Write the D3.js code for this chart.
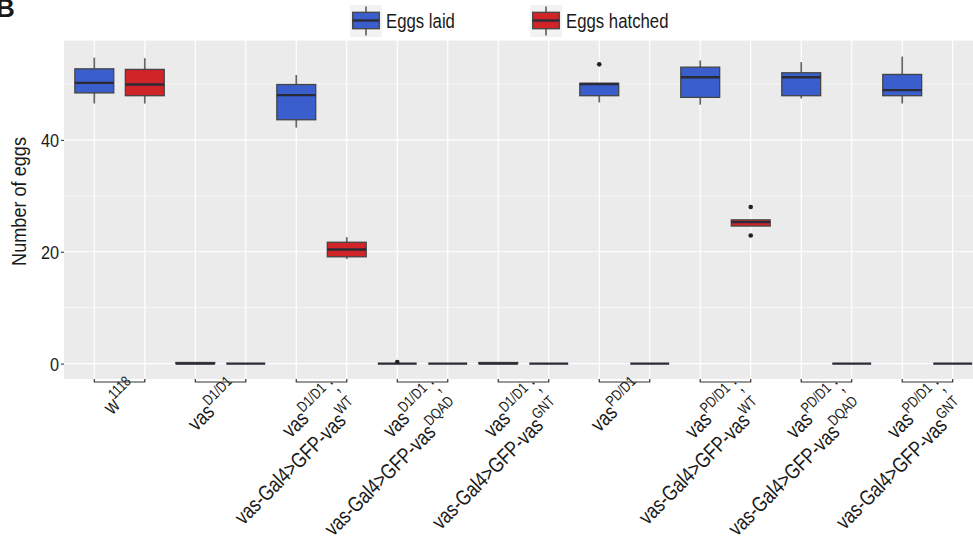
<!DOCTYPE html>
<html>
<head>
<meta charset="utf-8">
<script src="https://cdn.jsdelivr.net/npm/d3@7"></script>
<style>
  html, body { margin: 0; padding: 0; background: #ffffff; }
  svg { display: block; }
  text { font-family: "Liberation Sans", Arial, sans-serif; fill: #1a1a1a; }
</style>
</head>
<body>
<div id="chart"></div>
<script>
// ---------------- DATA ----------------
const seriesNames = ["Eggs laid", "Eggs hatched"];
const seriesColors = ["#3A5FCD", "#D02428"];

// group labels: lines -> [text, isSuperscript]
const groupLabels = [
  [[["w", 0], ["1118", 1]]],
  [[["vas", 0], ["D1/D1", 1]]],
  [[["vas", 0], ["D1/D1", 1], [" ;", 0]], [["vas-Gal4>GFP-vas", 0], ["WT", 1]]],
  [[["vas", 0], ["D1/D1", 1], [" ;", 0]], [["vas-Gal4>GFP-vas", 0], ["DQAD", 1]]],
  [[["vas", 0], ["D1/D1", 1], [" ;", 0]], [["vas-Gal4>GFP-vas", 0], ["GNT", 1]]],
  [[["vas", 0], ["PD/D1", 1]]],
  [[["vas", 0], ["PD/D1", 1], [" ;", 0]], [["vas-Gal4>GFP-vas", 0], ["WT", 1]]],
  [[["vas", 0], ["PD/D1", 1], [" ;", 0]], [["vas-Gal4>GFP-vas", 0], ["DQAD", 1]]],
  [[["vas", 0], ["PD/D1", 1], [" ;", 0]], [["vas-Gal4>GFP-vas", 0], ["GNT", 1]]]
];

// Eggs laid (box statistics per group)
const laidLow    = [46.5, 0,    42.2, 0,   0,   46.7, 46.3, 47.4, 46.5];
const laidQ1     = [48.4, 0,    43.6, 0,   0,   47.9, 47.6, 47.9, 47.9];
const laidMedian = [50.2, 0,    48.0, 0,   0,   50.0, 51.2, 51.2, 48.9];
const laidQ3     = [52.7, 0.2,  49.9, 0,   0.2, 50.1, 53.0, 52.0, 51.7];
const laidHigh   = [54.7, 0.2,  51.6, 0,   0.2, 50.1, 54.2, 53.9, 54.9];
const laidOutliers = [[], [], [], [0.3], [], [53.5], [], [], []];

// Eggs hatched
const hatchedLow    = [46.5, 0, 18.7, 0, 0, 0, 24.6, 0, 0];
const hatchedQ1     = [47.9, 0, 19.1, 0, 0, 0, 24.6, 0, 0];
const hatchedMedian = [49.9, 0, 20.4, 0, 0, 0, 25.3, 0, 0];
const hatchedQ3     = [52.6, 0, 21.7, 0, 0, 0, 25.7, 0, 0];
const hatchedHigh   = [54.6, 0, 22.6, 0, 0, 0, 25.7, 0, 0];
const hatchedOutliers = [[], [], [], [], [], [], [28.0, 22.9], [], []];

const yMajorTicks = [0, 20, 40];
const yMinorTicks = [10, 30, 50];
const yTitle = "Number of eggs";
const panelLetter = "B";

// ---------------- LAYOUT ----------------
const W = 973, H = 551;
const panel = { left: 64, right: 983, top: 40.6, bottom: 379 };
const narrow = 0.86;      // horizontal condensation of legend type
const labelNarrow = 0.8;  // condensation of x labels

const svg = d3.select("#chart").append("svg").attr("width", W).attr("height", H);

const nBoxes = groupLabels.length * 2;
const x = d3.scaleLinear().domain([-0.6, nBoxes - 1 + 0.6]).range([panel.left, panel.right]);
const y = d3.scaleLinear().domain([-2.75, 57.75]).range([panel.bottom, panel.top]);
const halfW = (x(1) - x(0)) * 0.385;

const boxes = [];
groupLabels.forEach((g, i) => {
  boxes.push({ idx: 2 * i, s: 0, low: laidLow[i], q1: laidQ1[i], med: laidMedian[i], q3: laidQ3[i], high: laidHigh[i], out: laidOutliers[i] });
  boxes.push({ idx: 2 * i + 1, s: 1, low: hatchedLow[i], q1: hatchedQ1[i], med: hatchedMedian[i], q3: hatchedQ3[i], high: hatchedHigh[i], out: hatchedOutliers[i] });
});

// panel background
svg.append("rect")
  .attr("x", panel.left).attr("y", panel.top)
  .attr("width", panel.right - panel.left).attr("height", panel.bottom - panel.top)
  .attr("fill", "#EBEBEB");

// grid
const grid = svg.append("g");
grid.selectAll("line.minor").data(yMinorTicks).join("line")
  .attr("x1", panel.left).attr("x2", panel.right)
  .attr("y1", d => y(d)).attr("y2", d => y(d))
  .attr("stroke", "#ffffff").attr("stroke-width", 0.6);
grid.selectAll("line.major").data(yMajorTicks).join("line")
  .attr("x1", panel.left).attr("x2", panel.right)
  .attr("y1", d => y(d)).attr("y2", d => y(d))
  .attr("stroke", "#ffffff").attr("stroke-width", 1.2);
grid.selectAll("line.vert").data(d3.range(nBoxes)).join("line")
  .attr("x1", d => x(d)).attr("x2", d => x(d))
  .attr("y1", panel.top).attr("y2", panel.bottom)
  .attr("stroke", "#ffffff").attr("stroke-width", 1.2);

// boxplots
const bg = svg.append("g");
const bx = bg.selectAll("g.box").data(boxes).join("g");
bx.append("line")
  .attr("x1", d => x(d.idx)).attr("x2", d => x(d.idx))
  .attr("y1", d => y(d.q3)).attr("y2", d => y(d.high))
  .attr("stroke", "#666666").attr("stroke-width", 1.7);
bx.append("line")
  .attr("x1", d => x(d.idx)).attr("x2", d => x(d.idx))
  .attr("y1", d => y(d.q1)).attr("y2", d => y(d.low))
  .attr("stroke", "#666666").attr("stroke-width", 1.7);
bx.append("rect")
  .attr("x", d => x(d.idx) - halfW).attr("width", halfW * 2)
  .attr("y", d => y(d.q3)).attr("height", d => y(d.q1) - y(d.q3))
  .attr("fill", d => seriesColors[d.s])
  .attr("stroke", "#444444").attr("stroke-width", 1.3);
bx.append("line")
  .attr("x1", d => x(d.idx) - halfW).attr("x2", d => x(d.idx) + halfW)
  .attr("y1", d => y(d.med)).attr("y2", d => y(d.med))
  .attr("stroke", "#2b2b38").attr("stroke-width", 2.4);
bx.selectAll("circle").data(d => d.out.map(v => ({ v, idx: d.idx }))).join("circle")
  .attr("cx", d => x(d.idx)).attr("cy", d => y(d.v)).attr("r", 2.3)
  .attr("fill", "#222222");

// y axis
const yAxis = svg.append("g")
  .attr("transform", `translate(${panel.left},0)`)
  .call(d3.axisLeft(y).tickValues(yMajorTicks).tickSize(3).tickPadding(2).tickFormat(d3.format("d")));
yAxis.select(".domain").remove();
yAxis.selectAll(".tick line").attr("stroke", "#333333").attr("stroke-width", 1.1);
yAxis.selectAll(".tick text")
  .attr("font-size", 18.5).attr("dy", "0.38em")
  .attr("x", -5 / 0.88).attr("transform", "scale(0.88,1)")
  .attr("font-family", "Liberation Sans, Arial, sans-serif").attr("fill", "#1a1a1a");

// y title
svg.append("text")
  .attr("transform", `translate(26,${(137 + 266) / 2}) rotate(-90) scale(0.93,1)`)
  .attr("text-anchor", "middle").attr("font-size", 19.5)
  .text(yTitle);

// x brackets
const brackets = svg.append("g");
groupLabels.forEach((g, i) => {
  const a = x(2 * i), b = x(2 * i + 1);
  brackets.append("path")
    .attr("d", `M${a},${panel.bottom} V${panel.bottom + 3} H${b} V${panel.bottom}`)
    .attr("fill", "none").attr("stroke", "#333333").attr("stroke-width", 1.2);
});

// x labels
const labels = svg.append("g");
const r = Math.SQRT1_2;
const lineGap = 28;
groupLabels.forEach((lines, i) => {
  const cx = (x(2 * i) + x(2 * i + 1)) / 2;
  const ex = cx + 19, ey = 389;
  lines.forEach((parts, li) => {
    const lx = ex + lineGap * li * r, ly = ey + lineGap * li * r;
    const t = labels.append("text")
      .attr("transform", `translate(${lx},${ly}) rotate(-45) scale(${labelNarrow},1)`)
      .attr("text-anchor", "end").attr("font-size", 21.5);
    let shift = 0;
    parts.forEach(([txt, sup]) => {
      const target = sup ? -9.5 : 0;
      const ts = t.append("tspan").attr("dy", target - shift).text(txt);
      if (sup) ts.attr("font-size", 15);
      shift = target;
    });
  });
});

// legend
const legend = svg.append("g");
const keyCenters = [366, 546];
const textX = [386, 566];
seriesNames.forEach((name, i) => {
  const kc = keyCenters[i];
  legend.append("rect").attr("x", kc - 16).attr("y", 5).attr("width", 32).attr("height", 32).attr("fill", "#F2F2F2");
  legend.append("line").attr("x1", kc).attr("x2", kc).attr("y1", 6.5).attr("y2", 35.5)
    .attr("stroke", "#666666").attr("stroke-width", 1.7);
  legend.append("rect").attr("x", kc - 13.3).attr("y", 12.3).attr("width", 26.6).attr("height", 16.4)
    .attr("fill", seriesColors[i]).attr("stroke", "#444444").attr("stroke-width", 1.3);
  legend.append("line").attr("x1", kc - 13.3).attr("x2", kc + 13.3).attr("y1", 20.5).attr("y2", 20.5)
    .attr("stroke", "#2b2b38").attr("stroke-width", 2.4);
  legend.append("text")
    .attr("transform", `translate(${textX[i]},28) scale(${narrow},1)`)
    .attr("font-size", 19.5).text(name);
});

// panel letter
svg.append("text").attr("x", -4).attr("y", 17).attr("font-size", 26).attr("font-weight", "bold")
  .attr("fill", "#000000").text(panelLetter);
</script>
</body>
</html>
